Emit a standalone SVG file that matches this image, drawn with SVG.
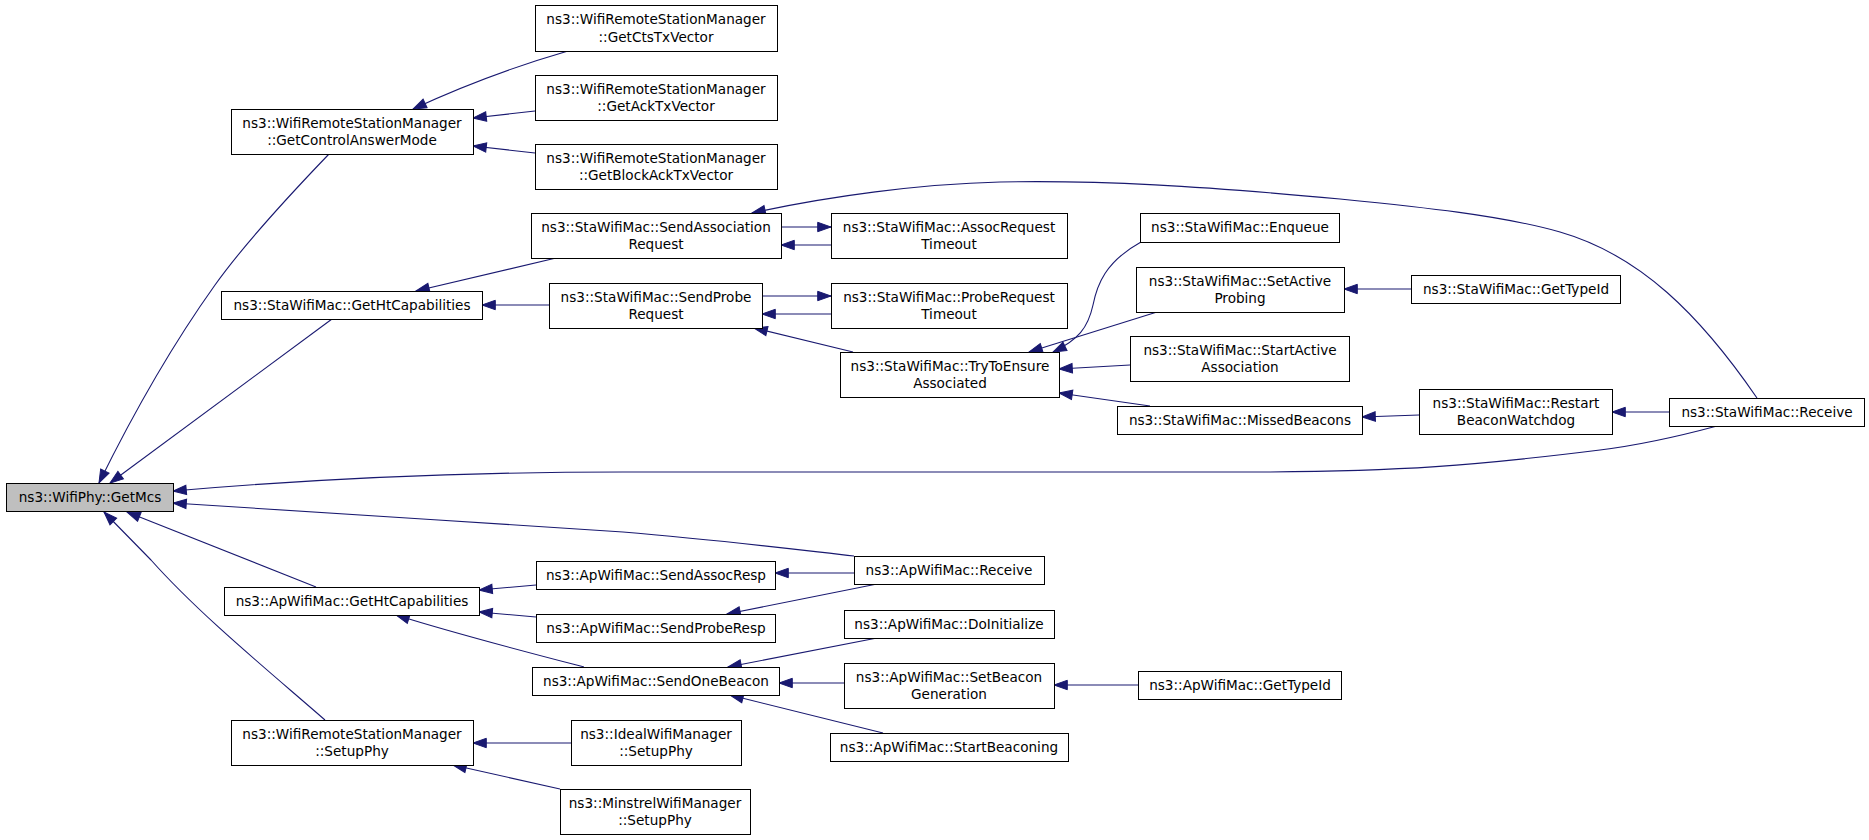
<svg xmlns="http://www.w3.org/2000/svg" width="1869" height="840" viewBox="0 0 1869 840">
<defs>
<style>
.n rect{fill:#fff;stroke:#000;stroke-width:1}
.n text{font-family:"DejaVu Sans",sans-serif;font-size:13.6px;text-anchor:middle;fill:#000}
#edges path{fill:none;stroke:#191970;stroke-width:1.1;marker-end:url(#ah)}
</style>
<marker id="ah" markerUnits="userSpaceOnUse" markerWidth="15" markerHeight="11" refX="13.3" refY="5" orient="auto" overflow="visible">
<path d="M0,0.3 L13.3,5 L0,9.7 z" fill="#191970" stroke="#191970" stroke-width="1"/>
</marker>
</defs>
<rect x="0" y="0" width="1869" height="840" fill="#fff"/>
<g id="edges">
<path d="M329,154 C280,205 240,250 215,285 C170,348 130,420 99,483"/>
<path d="M332,319 L110,483"/>
<path d="M1717,426 C1680,436 1640,445 1600,450 C1480,465 1400,472 1246,472 L623,472 C450,472 300,480 173,491"/>
<path d="M854,556 C800,550 720,540 623,532 C480,522 300,512 173,503"/>
<path d="M316,587 L127,512"/>
<path d="M325,720 C270,672 200,615 151,560 L104,512"/>
<path d="M568,51 C530,62 480,78 413,109"/>
<path d="M535,111 L473,118"/>
<path d="M535,153 L473,146"/>
<path d="M556,258 L416,291"/>
<path d="M549,305 L482,305"/>
<path d="M781,227 L831,227"/>
<path d="M831,245 L781,245"/>
<path d="M762,296 L831,296"/>
<path d="M831,314 L762,314"/>
<path d="M853,352 L754,328"/>
<path d="M1757,398 C1700,315 1640,255 1560,232 C1500,215 1420,207 1340,199 C1200,186 1100,180 1000,182 C920,184 830,196 752,213"/>
<path d="M1141,242 C1105,262 1097,285 1093,305 C1088,328 1078,340 1053,352"/>
<path d="M1157,312 L1029,352"/>
<path d="M1130,365 L1059,369"/>
<path d="M1150,406 L1059,393"/>
<path d="M1411,289 L1344,289"/>
<path d="M1419,415 L1362,417"/>
<path d="M1669,412 L1612,412"/>
<path d="M536,585 L479,590"/>
<path d="M536,617 L479,612"/>
<path d="M584,667 C530,653 460,635 396,615"/>
<path d="M854,573 L775,573"/>
<path d="M877,584 L727,614"/>
<path d="M877,638 L728,667"/>
<path d="M844,683 L779,683"/>
<path d="M883,733 L730,695"/>
<path d="M1138,685 L1054,685"/>
<path d="M571,743 L473,743"/>
<path d="M560,789 L453,765"/>
</g>
<g id="n_getmcs" class="n"><rect x="6.5" y="483.5" width="167" height="28" style="fill:#bfbfbf"/><text x="90" y="501.9">ns3::WifiPhy::GetMcs</text></g>
<g id="n_getcontrolanswermode" class="n"><rect x="231.5" y="109.5" width="242" height="45"/><text x="352" y="127.6">ns3::WifiRemoteStationManager</text><text x="352" y="145.1">::GetControlAnswerMode</text></g>
<g id="n_getctstxvector" class="n"><rect x="535.5" y="5.5" width="242" height="46"/><text x="656" y="24.1">ns3::WifiRemoteStationManager</text><text x="656" y="41.6">::GetCtsTxVector</text></g>
<g id="n_getacktxvector" class="n"><rect x="535.5" y="75.5" width="242" height="45"/><text x="656" y="93.6">ns3::WifiRemoteStationManager</text><text x="656" y="111.1">::GetAckTxVector</text></g>
<g id="n_getblockacktxvector" class="n"><rect x="535.5" y="144.5" width="242" height="45"/><text x="656" y="162.6">ns3::WifiRemoteStationManager</text><text x="656" y="180.1">::GetBlockAckTxVector</text></g>
<g id="n_sta_gethtcap" class="n"><rect x="221.5" y="291.5" width="261" height="28"/><text x="352" y="309.9">ns3::StaWifiMac::GetHtCapabilities</text></g>
<g id="n_sendassocreq" class="n"><rect x="531.5" y="213.5" width="250" height="45"/><text x="656" y="231.6">ns3::StaWifiMac::SendAssociation</text><text x="656" y="249.1">Request</text></g>
<g id="n_assocreqtimeout" class="n"><rect x="831.5" y="213.5" width="236" height="45"/><text x="949" y="231.6">ns3::StaWifiMac::AssocRequest</text><text x="949" y="249.1">Timeout</text></g>
<g id="n_sendprobereq" class="n"><rect x="549.5" y="283.5" width="213" height="45"/><text x="656" y="301.6">ns3::StaWifiMac::SendProbe</text><text x="656" y="319.1">Request</text></g>
<g id="n_probereqtimeout" class="n"><rect x="831.5" y="283.5" width="236" height="45"/><text x="949" y="301.6">ns3::StaWifiMac::ProbeRequest</text><text x="949" y="319.1">Timeout</text></g>
<g id="n_trytoensure" class="n"><rect x="840.5" y="352.5" width="219" height="45"/><text x="950" y="370.6">ns3::StaWifiMac::TryToEnsure</text><text x="950" y="388.1">Associated</text></g>
<g id="n_enqueue" class="n"><rect x="1140.5" y="213.5" width="199" height="29"/><text x="1240" y="232.4">ns3::StaWifiMac::Enqueue</text></g>
<g id="n_setactiveprobing" class="n"><rect x="1136.5" y="267.5" width="208" height="45"/><text x="1240" y="285.6">ns3::StaWifiMac::SetActive</text><text x="1240" y="303.1">Probing</text></g>
<g id="n_sta_gettypeid" class="n"><rect x="1411.5" y="275.5" width="209" height="28"/><text x="1516" y="293.9">ns3::StaWifiMac::GetTypeId</text></g>
<g id="n_startactiveassoc" class="n"><rect x="1130.5" y="336.5" width="219" height="45"/><text x="1240" y="354.6">ns3::StaWifiMac::StartActive</text><text x="1240" y="372.1">Association</text></g>
<g id="n_missedbeacons" class="n"><rect x="1117.5" y="406.5" width="245" height="28"/><text x="1240" y="424.9">ns3::StaWifiMac::MissedBeacons</text></g>
<g id="n_restartbeaconwatchdog" class="n"><rect x="1419.5" y="389.5" width="193" height="45"/><text x="1516" y="407.6">ns3::StaWifiMac::Restart</text><text x="1516" y="425.1">BeaconWatchdog</text></g>
<g id="n_sta_receive" class="n"><rect x="1669.5" y="398.5" width="195" height="28"/><text x="1767" y="416.9">ns3::StaWifiMac::Receive</text></g>
<g id="n_ap_receive" class="n"><rect x="854.5" y="556.5" width="190" height="28"/><text x="949" y="574.9">ns3::ApWifiMac::Receive</text></g>
<g id="n_ap_gethtcap" class="n"><rect x="224.5" y="587.5" width="255" height="28"/><text x="352" y="605.9">ns3::ApWifiMac::GetHtCapabilities</text></g>
<g id="n_sendassocresp" class="n"><rect x="536.5" y="561.5" width="239" height="28"/><text x="656" y="579.9">ns3::ApWifiMac::SendAssocResp</text></g>
<g id="n_sendproberesp" class="n"><rect x="536.5" y="614.5" width="239" height="28"/><text x="656" y="632.9">ns3::ApWifiMac::SendProbeResp</text></g>
<g id="n_sendonebeacon" class="n"><rect x="532.5" y="667.5" width="247" height="28"/><text x="656" y="685.9">ns3::ApWifiMac::SendOneBeacon</text></g>
<g id="n_doinitialize" class="n"><rect x="844.5" y="610.5" width="210" height="28"/><text x="949" y="628.9">ns3::ApWifiMac::DoInitialize</text></g>
<g id="n_setbeacongeneration" class="n"><rect x="844.5" y="663.5" width="210" height="45"/><text x="949" y="681.6">ns3::ApWifiMac::SetBeacon</text><text x="949" y="699.1">Generation</text></g>
<g id="n_startbeaconing" class="n"><rect x="830.5" y="733.5" width="238" height="28"/><text x="949" y="751.9">ns3::ApWifiMac::StartBeaconing</text></g>
<g id="n_ap_gettypeid" class="n"><rect x="1138.5" y="671.5" width="203" height="28"/><text x="1240" y="689.9">ns3::ApWifiMac::GetTypeId</text></g>
<g id="n_setupphy" class="n"><rect x="231.5" y="720.5" width="242" height="45"/><text x="352" y="738.6">ns3::WifiRemoteStationManager</text><text x="352" y="756.1">::SetupPhy</text></g>
<g id="n_ideal_setupphy" class="n"><rect x="571.5" y="720.5" width="170" height="45"/><text x="656" y="738.6">ns3::IdealWifiManager</text><text x="656" y="756.1">::SetupPhy</text></g>
<g id="n_minstrel_setupphy" class="n"><rect x="560.5" y="789.5" width="190" height="45"/><text x="655" y="807.6">ns3::MinstrelWifiManager</text><text x="655" y="825.1">::SetupPhy</text></g>
</svg>
